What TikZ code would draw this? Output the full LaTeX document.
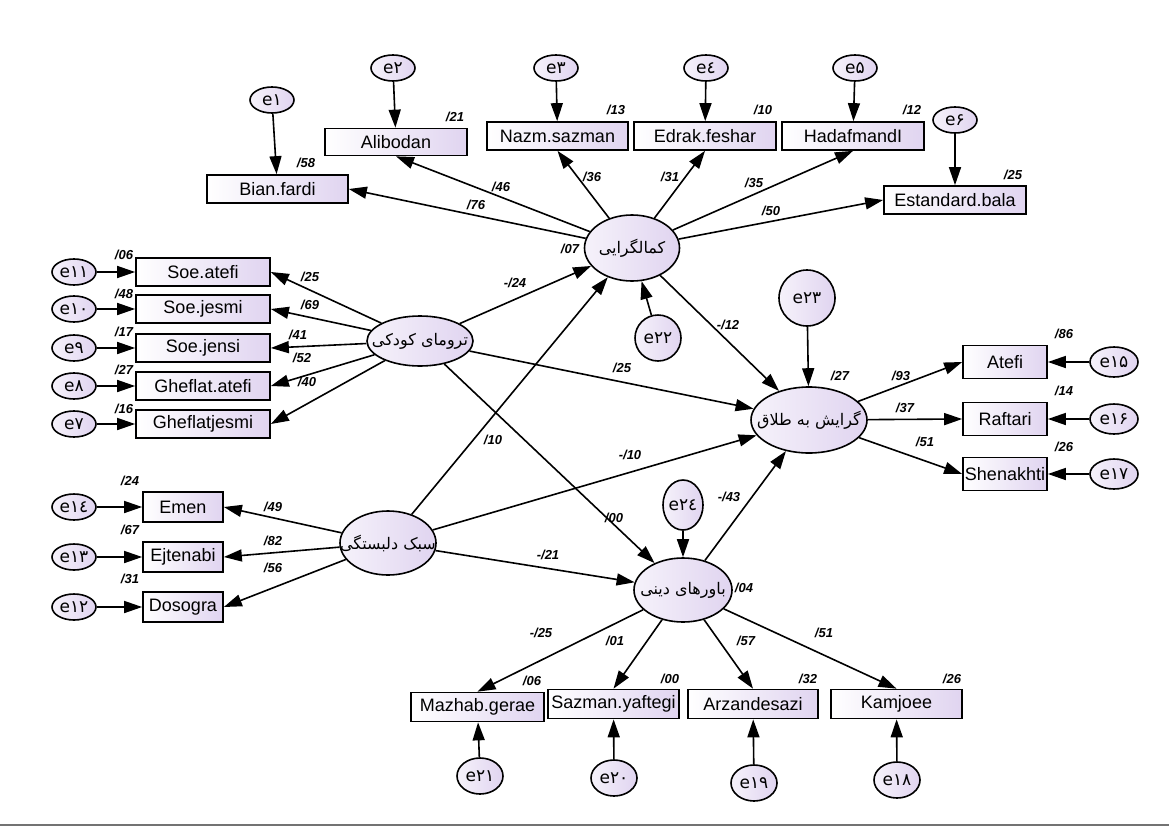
\documentclass[tikz,border=0pt]{standalone}
\usepackage{fontspec}
\setmainfont{Liberation Sans}
\newfontfamily\fafont[Script=Arabic]{DejaVu Sans}
\newfontfamily\efont{DejaVu Sans}
\TeXXeTstate=1
\usetikzlibrary{arrows.meta, shapes.geometric}
\definecolor{lav}{RGB}{224,212,240}

\begin{document}
\begin{tikzpicture}[x=1pt, y=-1pt,
  ind/.style={draw, line width=1.7pt, rectangle, inner sep=0pt, minimum width=141pt,
              minimum height=28pt, left color=white, right color=lav,
              font=\fontsize{18}{20}\selectfont},
  lat/.style={draw, line width=1.6pt, ellipse, inner xsep=-24pt, inner ysep=0pt,
              left color=lav!30, right color=lav, font=\fafont\fontsize{16}{18}\selectfont},
  err/.style={draw, line width=1.6pt, ellipse, inner xsep=-10pt, inner ysep=0pt,
              minimum width=44pt, minimum height=26pt, left color=lav!30, right color=lav,
              font=\efont\fontsize{17}{19}\selectfont},
  res/.style={err, circle, inner sep=0pt},
  arr/.style={-{Triangle[length=18pt, width=12pt]}, line width=1.6pt},
  lbl/.style={font=\bfseries\itshape\fontsize{13}{15}\selectfont}
]
\useasboundingbox (0,0) rectangle (1169,827);
% latent variables
\node[lat, minimum width=95pt, minimum height=66pt] (kamal) at (632,248) {\beginR کمالگرایی\endR};
\node[lat, minimum width=106pt, minimum height=50pt] (troma) at (420,341) {\beginR ترومای کودکی\endR};
\node[lat, minimum width=96pt, minimum height=64pt] (sabk) at (388,543) {\beginR سبک دلبستگی\endR};
\node[lat, minimum width=116pt, minimum height=66pt] (talagh) at (809,420) {\beginR گرایش به طلاق\endR};
\node[lat, minimum width=98pt, minimum height=64pt] (bavar) at (683,590) {\beginR باورهای دینی\endR};
% residuals
\node[res, minimum size=46pt] (e22) at (658,338) {e۲۲};
\node[res, minimum size=56pt] (e23) at (807,298) {e۲۳};
\node[err, minimum width=40pt, minimum height=50pt] (e24) at (683,505) {e۲٤};
% indicators of kamal (top)
\node[ind] (bian) at (277.5,189) {Bian.fardi};
\node[ind, minimum width=142pt, minimum height=27pt] (alibodan) at (396,142) {Alibodan};
\node[ind] (nazm) at (557.5,136) {Nazm.sazman};
\node[ind, minimum width=142pt] (edrak) at (705,136) {Edrak.feshar};
\node[ind, minimum width=142pt] (hadaf) at (853,136) {HadafmandI};
\node[ind, minimum width=142pt] (estandard) at (955,200) {Estandard.bala};
\node[err] (e1) at (272,100) {e۱};
\node[err] (e2) at (393,68) {e۲};
\node[err] (e3) at (556,68) {e۳};
\node[err] (e4) at (706,68) {e٤};
\node[err] (e5) at (855,68) {e۵};
\node[err] (e6) at (955,120) {e۶};
% indicators of troma (left)
\node[ind, minimum width=134pt] (soeatefi) at (203,272) {Soe.atefi};
\node[ind, minimum width=134pt] (soejesmi) at (203,309) {Soe.jesmi};
\node[ind, minimum width=134pt] (soejensi) at (203,348) {Soe.jensi};
\node[ind, minimum width=134pt] (ghatefi) at (203,386) {Gheflat.atefi};
\node[ind, minimum width=134pt] (ghjesmi) at (203,424) {Gheflatjesmi};
\node[err] (e11) at (74,272) {e۱۱};
\node[err] (e10) at (74,309) {e۱۰};
\node[err] (e9) at (74,348) {e۹};
\node[err] (e8) at (74,386) {e۸};
\node[err] (e7) at (74,424) {e۷};
% indicators of sabk (left)
\node[ind, minimum width=80pt, minimum height=30pt] (emen) at (183,507) {Emen};
\node[ind, minimum width=80pt, minimum height=30pt] (ejtenabi) at (183,557) {Ejtenabi};
\node[ind, minimum width=80pt, minimum height=30pt] (dosogra) at (183,607) {Dosogra};
\node[err] (e14) at (74,507) {e۱٤};
\node[err] (e13) at (74,557) {e۱۳};
\node[err] (e12) at (74,607) {e۱۲};
% indicators of talagh (right)
\node[ind, minimum width=84pt, minimum height=33pt] (atefi) at (1005,362) {Atefi};
\node[ind, minimum width=84pt, minimum height=33pt] (raftari) at (1005,419) {Raftari};
\node[ind, minimum width=84pt, minimum height=33pt] (shenakhti) at (1005,474) {Shenakhti};
\node[err, minimum width=48pt, minimum height=30pt] (e15) at (1114,362) {e۱۵};
\node[err, minimum width=48pt, minimum height=30pt] (e16) at (1114,419) {e۱۶};
\node[err, minimum width=48pt, minimum height=30pt] (e17) at (1114,474) {e۱۷};
% indicators of bavar (bottom)
\node[ind, minimum width=133pt, minimum height=29pt] (mazhab) at (477.5,707) {Mazhab.gerae};
\node[ind, minimum width=131pt, minimum height=29pt] (sazman) at (613.5,704) {Sazman.yaftegi};
\node[ind, minimum width=130pt, minimum height=29pt] (arzande) at (753,704) {Arzandesazi};
\node[ind, minimum width=131pt, minimum height=29pt] (kamjoee) at (896.5,704) {Kamjoee};
\node[err, minimum width=46pt, minimum height=36pt] (e21) at (480,776) {e۲۱};
\node[err, minimum width=46pt, minimum height=36pt] (e20) at (614,778) {e۲۰};
\node[err, minimum width=46pt, minimum height=36pt] (e19) at (754,783) {e۱۹};
\node[err, minimum width=46pt, minimum height=36pt] (e18) at (897,780) {e۱۸};

% measurement paths
\draw[arr] (kamal) -- (bian.east);
\draw[arr] (kamal) -- (alibodan.south);
\draw[arr] (kamal) -- (nazm.south);
\draw[arr] (kamal) -- (edrak.south);
\draw[arr] (kamal) -- (hadaf.south);
\draw[arr] (kamal) -- (estandard.west);
\draw[arr] (e1) -- (bian);
\draw[arr] (e2) -- (alibodan);
\draw[arr] (e3) -- (nazm);
\draw[arr] (e4) -- (edrak);
\draw[arr] (e5) -- (hadaf);
\draw[arr] (e6) -- (estandard);
\draw[arr] (troma) -- (soeatefi.east);
\draw[arr] (troma) -- (soejesmi.east);
\draw[arr] (troma) -- (soejensi.east);
\draw[arr] (troma) -- (ghatefi.east);
\draw[arr] (troma) -- (ghjesmi.east);
\draw[arr] (e11) -- (soeatefi);
\draw[arr] (e10) -- (soejesmi);
\draw[arr] (e9) -- (soejensi);
\draw[arr] (e8) -- (ghatefi);
\draw[arr] (e7) -- (ghjesmi);
\draw[arr] (sabk) -- (emen.east);
\draw[arr] (sabk) -- (ejtenabi.east);
\draw[arr] (sabk) -- (dosogra.east);
\draw[arr] (e14) -- (emen);
\draw[arr] (e13) -- (ejtenabi);
\draw[arr] (e12) -- (dosogra);
\draw[arr] (talagh) -- (atefi.west);
\draw[arr] (talagh) -- (raftari.west);
\draw[arr] (talagh) -- (shenakhti.west);
\draw[arr] (e15) -- (atefi);
\draw[arr] (e16) -- (raftari);
\draw[arr] (e17) -- (shenakhti);
\draw[arr] (bavar) -- (mazhab.north);
\draw[arr] (bavar) -- (sazman.north);
\draw[arr] (bavar) -- (arzande.north);
\draw[arr] (bavar) -- (kamjoee.north);
\draw[arr] (e21) -- (mazhab);
\draw[arr] (e20) -- (sazman);
\draw[arr] (e19) -- (arzande);
\draw[arr] (e18) -- (kamjoee);
% structural paths
\draw[arr] (troma) -- (kamal);
\draw[arr] (sabk) -- (kamal);
\draw[arr] (e22) -- (kamal);
\draw[arr] (kamal) -- (talagh);
\draw[arr] (troma) -- (talagh);
\draw[arr] (sabk) -- (talagh);
\draw[arr] (bavar) -- (talagh);
\draw[arr] (e23) -- (talagh);
\draw[arr] (troma) -- (bavar);
\draw[arr] (sabk) -- (bavar);
\draw[arr] (e24) -- (bavar);

% squared multiple correlations
\node[lbl] (rbian) at (306,163) {/58};
\node[lbl] (ralibodan) at (455,117) {/21};
\node[lbl] (rnazm) at (616,110) {/13};
\node[lbl] (redrak) at (763,110) {/10};
\node[lbl] (rhadaf) at (912,110) {/12};
\node[lbl] (restandard) at (1013,175) {/25};
\node[lbl] (rkamal) at (570,249) {/07};
\node[lbl] (rsoeatefi) at (124,255) {/06};
\node[lbl] (rsoejesmi) at (124,294) {/48};
\node[lbl] (rsoejensi) at (124,332) {/17};
\node[lbl] (rghatefi) at (124,370) {/27};
\node[lbl] (rghjesmi) at (124,409) {/16};
\node[lbl] (remen) at (130,481) {/24};
\node[lbl] (rejtenabi) at (130,530) {/67};
\node[lbl] (rdosogra) at (130,579) {/31};
\node[lbl] (rtalagh) at (840,376) {/27};
\node[lbl] (ratefi) at (1064,334) {/86};
\node[lbl] (rraftari) at (1064,391) {/14};
\node[lbl] (rshenakhti) at (1064,447) {/26};
\node[lbl] (rbavar) at (744,588) {/04};
\node[lbl] (rmazhab) at (532,681) {/06};
\node[lbl] (rsazman) at (670,679) {/00};
\node[lbl] (rarzande) at (808,679) {/32};
\node[lbl] (rkamjoee) at (952,679) {/26};
% path coefficients
\node[lbl] (wbian) at (476,205) {/76};
\node[lbl] (walibodan) at (501,187) {/46};
\node[lbl] (wnazm) at (592,177) {/36};
\node[lbl] (wedrak) at (670,177) {/31};
\node[lbl] (whadaf) at (754,183) {/35};
\node[lbl] (westandard) at (771,211) {/50};
\node[lbl] (wsoeatefi) at (310,277) {/25};
\node[lbl] (wsoejesmi) at (310,305) {/69};
\node[lbl] (wsoejensi) at (298,335) {/41};
\node[lbl] (wghatefi) at (302,358) {/52};
\node[lbl] (wghjesmi) at (307,382) {/40};
\node[lbl] (wemen) at (273,507) {/49};
\node[lbl] (wejtenabi) at (273,541) {/82};
\node[lbl] (wdosogra) at (273,568) {/56};
\node[lbl] (watefi) at (901,376) {/93};
\node[lbl] (wraftari) at (905,408) {/37};
\node[lbl] (wshenakhti) at (925,442) {/51};
\node[lbl] (wmazhab) at (541,633) {-/25};
\node[lbl] (wsazman) at (615,641) {/01};
\node[lbl] (warzande) at (746,641) {/57};
\node[lbl] (wkamjoee) at (824,633) {/51};
\node[lbl] (wtromakamal) at (515,283) {-/24};
\node[lbl] (wsabkkamal) at (493,440) {/10};
\node[lbl] (wkamaltalagh) at (728,325) {-/12};
\node[lbl] (wtromatalagh) at (622,368) {/25};
\node[lbl] (wtromabavar) at (614,518) {/00};
\node[lbl] (wsabktalagh) at (630,455) {-/10};
\node[lbl] (wbavartalagh) at (729,497) {-/43};
\node[lbl] (wsabkbavar) at (548,555) {-/21};
% bottom rule
\draw[line width=2pt, black!55] (0,825) -- (1169,825);
\end{tikzpicture}
\end{document}
